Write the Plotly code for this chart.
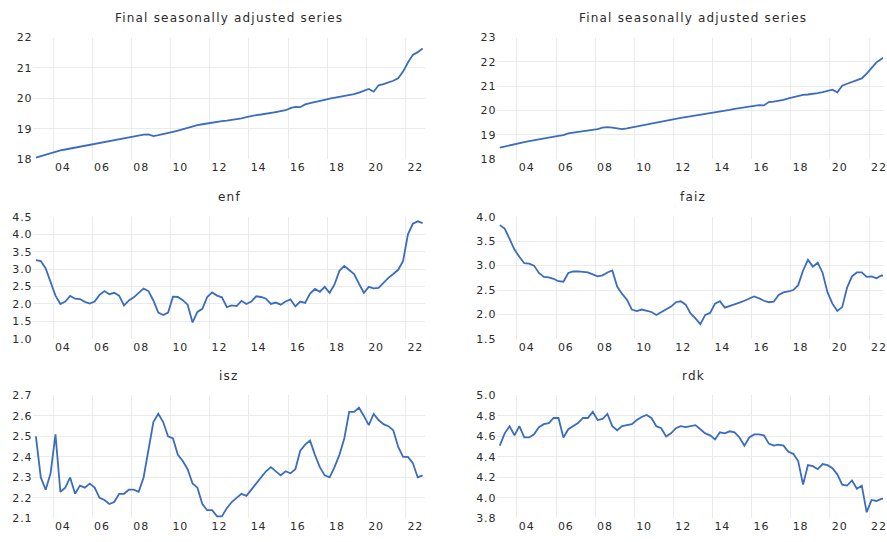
import numpy as np
import plotly.graph_objects as go

# quarterly observations 2003Q1 .. 2022Q4
quarters = [f"{y}Q{q}" for y in range(2003, 2023) for q in range(1, 5)]

sa_left = [18.05, 18.10, 18.15, 18.20, 18.25, 18.29, 18.32, 18.35,
           18.38, 18.41, 18.44, 18.48, 18.52, 18.55, 18.58, 18.60,
           18.62, 18.65, 18.68, 18.72, 18.76, 18.79, 18.81, 18.82,
           18.76, 18.79, 18.82, 18.86, 18.90, 18.94, 18.99, 19.04,
           19.07, 19.12, 19.15, 19.18, 19.21, 19.23, 19.25, 19.27,
           19.29, 19.31, 19.34, 19.38, 19.42, 19.45, 19.47, 19.49,
           19.52, 19.55, 19.58, 19.61, 19.68, 19.72, 19.71, 19.80,
           19.84, 19.87, 19.91, 19.95, 19.99, 20.02, 20.05, 20.08,
           20.10, 20.14, 20.19, 20.24, 20.31, 20.22, 20.43, 20.47,
           20.52, 20.58, 20.66, 20.88, 21.18, 21.43, 21.52, 21.64]

sa_right = [18.48, 18.53, 18.58, 18.62, 18.66, 18.70, 18.74, 18.78,
            18.82, 18.86, 18.89, 18.92, 18.96, 18.99, 19.06, 19.09,
            19.12, 19.14, 19.16, 19.18, 19.24, 19.30, 19.32, 19.30,
            19.26, 19.24, 19.27, 19.31, 19.35, 19.39, 19.43, 19.47,
            19.52, 19.57, 19.61, 19.65, 19.68, 19.70, 19.73, 19.76,
            19.79, 19.83, 19.86, 19.90, 19.93, 19.96, 19.99, 20.03,
            20.07, 20.10, 20.14, 20.17, 20.20, 20.22, 20.21, 20.35,
            20.37, 20.40, 20.44, 20.50, 20.55, 20.60, 20.64, 20.66,
            20.68, 20.72, 20.76, 20.80, 20.86, 20.75, 21.02, 21.10,
            21.17, 21.22, 21.32, 21.52, 21.76, 21.98, 22.12, 22.25]

enf = [3.26, 3.23, 3.02, 2.63, 2.24, 2.00, 2.07, 2.23,
       2.15, 2.14, 2.06, 2.01, 2.07, 2.26, 2.37, 2.28,
       2.32, 2.24, 1.96, 2.10, 2.19, 2.32, 2.44, 2.37,
       2.10, 1.75, 1.68, 1.75, 2.21, 2.20, 2.11, 1.98,
       1.47, 1.77, 1.86, 2.20, 2.33, 2.24, 2.19, 1.91,
       1.96, 1.94, 2.09, 2.00, 2.07, 2.22, 2.20, 2.15,
       2.00, 2.04, 1.98, 2.07, 2.13, 1.93, 2.07, 2.03,
       2.30, 2.43, 2.35, 2.49, 2.32, 2.56, 2.95, 3.09,
       2.98, 2.86, 2.58, 2.32, 2.49, 2.45, 2.46, 2.61,
       2.75, 2.86, 2.98, 3.23, 4.00, 4.30, 4.37, 4.32]

faiz = [3.83, 3.76, 3.55, 3.33, 3.18, 3.05, 3.04, 3.00,
        2.85, 2.77, 2.76, 2.73, 2.68, 2.67, 2.85, 2.88,
        2.88, 2.87, 2.86, 2.82, 2.78, 2.80, 2.86, 2.90,
        2.57, 2.42, 2.30, 2.10, 2.07, 2.10, 2.08, 2.05,
        1.99, 2.05, 2.10, 2.16, 2.25, 2.27, 2.20, 2.02,
        1.92, 1.80, 1.99, 2.03, 2.22, 2.27, 2.14, 2.17,
        2.20, 2.24, 2.28, 2.33, 2.37, 2.33, 2.28, 2.25,
        2.26, 2.40, 2.45, 2.47, 2.50, 2.60, 2.90, 3.12,
        2.98, 3.06, 2.85, 2.45, 2.22, 2.07, 2.15, 2.55,
        2.78, 2.86, 2.86, 2.77, 2.78, 2.74, 2.80, 2.79]

isz = [2.50, 2.30, 2.24, 2.32, 2.51, 2.23, 2.25, 2.30,
       2.22, 2.26, 2.25, 2.27, 2.25, 2.20, 2.19, 2.17,
       2.18, 2.22, 2.22, 2.24, 2.24, 2.23, 2.30, 2.43,
       2.57, 2.61, 2.57, 2.50, 2.49, 2.41, 2.38, 2.34,
       2.27, 2.25, 2.17, 2.14, 2.14, 2.11, 2.11, 2.15,
       2.18, 2.20, 2.22, 2.21, 2.24, 2.27, 2.30, 2.33,
       2.35, 2.33, 2.31, 2.33, 2.32, 2.34, 2.43, 2.46,
       2.48, 2.41, 2.35, 2.31, 2.30, 2.35, 2.41, 2.49,
       2.62, 2.62, 2.64, 2.60, 2.555, 2.61, 2.58, 2.56,
       2.55, 2.53, 2.45, 2.40, 2.40, 2.37, 2.30, 2.31]

rdk = [4.51, 4.63, 4.70, 4.61, 4.70, 4.59, 4.59, 4.62,
       4.69, 4.72, 4.73, 4.78, 4.78, 4.59, 4.67, 4.70,
       4.73, 4.78, 4.78, 4.84, 4.76, 4.77, 4.82, 4.70,
       4.66, 4.70, 4.71, 4.72, 4.76, 4.79, 4.81, 4.78,
       4.70, 4.68, 4.60, 4.63, 4.68, 4.70, 4.69, 4.70,
       4.71, 4.67, 4.63, 4.61, 4.57, 4.64, 4.63, 4.65,
       4.64, 4.59, 4.51, 4.59, 4.62, 4.62, 4.61, 4.53,
       4.51, 4.52, 4.51, 4.45, 4.43, 4.36, 4.13, 4.32,
       4.31, 4.28, 4.33, 4.32, 4.29, 4.23, 4.13, 4.12,
       4.17, 4.09, 4.12, 3.86, 3.98, 3.97, 3.99, 4.00]

titles = ["Final seasonally adjusted series", "Final seasonally adjusted series",
          "enf", "faiz", "isz", "rdk"]
tick_years = list(range(2004, 2023, 2))
tick_labels = ["04", "06", "08", "10", "12", "14", "16", "18", "20", "22"]

# quarter -> decimal year at the middle of the quarter
x = [int(q[:4]) + (int(q[-1]) - 1) * 0.25 + 0.125 for q in quarters]

W, H = 887, 542
line_color = "#3a6cc0"
grid_color = "#ebebeb"
txt = "#2b2b2b"


def spaced(s, ls):
    return f'<span style="letter-spacing:{ls}px">{s}</span>'


fig = go.Figure()

# panel geometry in pixels (right column runs past the window edge)
cols = [(33.6, 427.0, [2003.0, 2023.0]), (499.6, 887.0, [2003.0, 2022.71])]
rows = [(32.3, 157.0), (216.0, 341.0), (399.0, 525.0)]
yranges = [[18, 22], [18, 23], [1.0, 4.5], [1.5, 4.0], [2.1, 2.7], [3.8, 5.0]]
ysteps = [1, 1, 0.5, 0.5, 0.1, 0.2]
yfmt = ["{:.0f}", "{:.0f}", "{:.1f}", "{:.1f}", "{:.1f}", "{:.1f}"]
series = [sa_left, sa_right, enf, faiz, isz, rdk]
title_cx = [230.5, 696.5]

for i, ys in enumerate(series):
    r, c = divmod(i, 2)
    x0, x1, xr = cols[c]
    y0, y1 = rows[r]
    n = i + 1
    xa = "x" if n == 1 else f"x{n}"
    ya = "y" if n == 1 else f"y{n}"
    lo, hi = yranges[i]
    yt = list(np.round(np.arange(lo, hi + ysteps[i] / 2, ysteps[i]), 2))
    fig.add_trace(go.Scatter(x=x, y=ys, mode="lines", xaxis=xa, yaxis=ya,
                             line=dict(color=line_color, width=1.8),
                             showlegend=False, hoverinfo="skip"))
    fig.update_layout(**{
        ("xaxis" if n == 1 else f"xaxis{n}"): dict(
            domain=[x0 / W, x1 / W], range=xr, anchor=ya,
            tickmode="array", tickvals=[t + 0.5 for t in tick_years],
            ticktext=[spaced(t, 0.9) for t in tick_labels],
            ticklabeloverflow="allow",
            showgrid=False, ticks="", showline=False, zeroline=False,
            tickfont=dict(size=11, color=txt),
            minor=dict(tickmode="array", tickvals=tick_years, showgrid=True,
                       gridcolor=grid_color, gridwidth=1, ticks=""),
        ),
        ("yaxis" if n == 1 else f"yaxis{n}"): dict(
            domain=[1 - y1 / H, 1 - y0 / H], range=yranges[i], anchor=xa,
            tickmode="array", tickvals=yt,
            ticktext=[spaced(yfmt[i].format(v), 0.9) for v in yt],
            showgrid=True, gridcolor=grid_color, gridwidth=1,
            zeroline=False, showline=False, ticks="",
            tickfont=dict(size=11, color=txt),
        ),
    })
    fig.add_annotation(text=spaced(titles[i], 1.2), xref="paper", yref="paper",
                       x=title_cx[c] / W, y=1 - (y0 - 20) / H,
                       xanchor="center", yanchor="middle", showarrow=False,
                       font=dict(size=12, color=txt))

fig.update_layout(
    width=W, height=H,
    margin=dict(l=0, r=0, t=0, b=0),
    paper_bgcolor="white", plot_bgcolor="white",
    font=dict(family="DejaVu Sans", size=12, color=txt),
)

fig.write_html("out.html", config={"displayModeBar": False},
               post_script="document.body.style.margin='0';document.body.style.overflow='hidden';")
